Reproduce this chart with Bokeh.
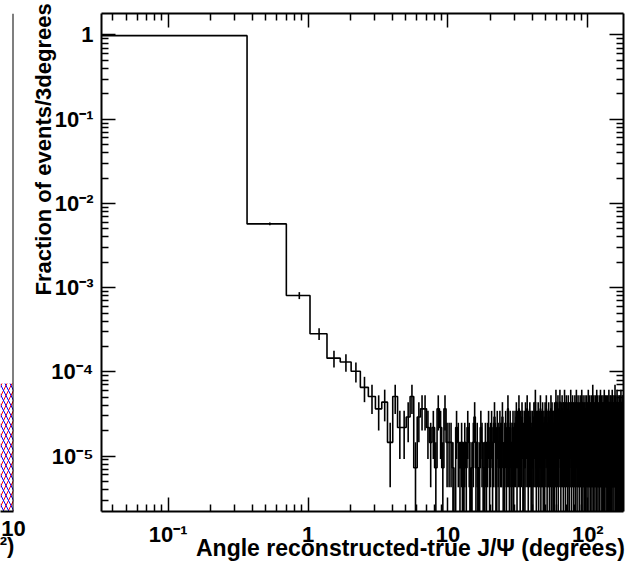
import numpy as np
from bokeh.plotting import figure
from bokeh.models import Range1d, FixedTicker, LogAxis
from bokeh.layouts import row
from bokeh.embed import file_html
from bokeh.resources import INLINE

FONT = "Liberation Sans"
NBSP = "\u00a0"

# ---------------- data ----------------
angle_bin_width = 1.0 / 3.0          # degrees per bin
angle_first_edge = 0.0333            # lower edge of first bin (degrees)

counts_0_14 = [134800, 785, 111, 39, 20, 18, 14, 9, 7, 5, 6, 2, 7, 3, 3]
counts_15_29 = [4, 7, 1, 4, 5, 5, 3, 2, 3, 1, 5, 3, 1, 5, 2]
counts_30_59 = [2, 2, 1, 0, 3, 2, 1, 2, 0, 2, 1, 3, 2, 0, 1, 2, 4, 1, 2, 0,
                1, 3, 2, 1, 0, 2, 1, 2, 3, 1]
counts_60_89 = [2, 3, 1, 2, 4, 2, 0, 3, 2, 1, 3, 2, 2, 4, 1, 0, 2, 3, 1, 2,
                5, 2, 1, 3, 2, 0, 2, 3, 1, 2]
counts_90_179 = [3, 2, 4, 1, 3, 2, 5, 2, 1, 3, 2, 4, 3, 0, 2, 3, 1, 4, 2, 3,
                 5, 2, 1, 3, 2, 4, 2, 3, 0, 2, 3, 1, 2, 4, 3, 2, 6, 2, 1, 3,
                 2, 3, 4, 1, 2, 3, 2, 5, 1, 2, 3, 2, 4, 2, 0, 3, 2, 1, 4, 3,
                 2, 5, 3, 1, 2, 3, 2, 4, 2, 1, 3, 2, 3, 5, 1, 2, 4, 2, 3, 0,
                 2, 3, 1, 4, 2, 3, 2, 6, 1, 3]
counts_180_539 = [3, 4, 2, 5, 1, 3, 2, 4, 3, 6, 2, 3, 1, 4, 3, 2, 5, 3, 2, 4,
                  1, 3, 4, 2, 6, 3, 2, 1, 4, 3, 5, 2, 3, 4, 2, 0, 3, 5, 2, 3,
                  4, 1, 3, 2, 4, 3, 6, 2, 3, 1, 4, 3, 2, 5, 3, 2, 4, 1, 3, 4,
                  2, 3, 5, 2, 1, 4, 3, 2, 6, 3, 3, 1, 4, 2, 3, 5, 2, 4, 3, 2,
                  1, 3, 4, 2, 5, 3, 2, 3, 4, 1, 3, 6, 2, 3, 4, 2, 1, 5, 3, 2,
                  4, 3, 2, 1, 3, 4, 5, 2, 3, 2, 0, 4, 3, 2, 5, 3, 1, 4, 2, 3,
                  3, 2, 6, 3, 4, 1, 2, 3, 5, 2, 4, 3, 2, 4, 1, 3, 2, 5, 3, 4,
                  2, 1, 3, 4, 2, 7, 3, 2, 4, 3, 1, 5, 2, 3, 4, 2, 3, 1, 4, 3,
                  5, 2, 3, 2, 4, 3, 1, 6, 2, 3, 4, 2, 3, 5, 1, 3, 4, 2, 3, 2,
                  3, 4, 1, 2, 5, 3, 2, 4, 3, 6, 2, 3, 4, 1, 3, 2, 5, 3, 4, 2,
                  1, 4, 3, 2, 3, 5, 2, 4, 1, 3, 3, 2, 4, 6, 2, 3, 1, 4, 3, 2,
                  5, 3, 2, 4, 3, 1, 2, 5, 3, 4, 2, 3, 0, 4, 3, 2, 5, 3, 2, 4,
                  1, 3, 4, 2, 6, 3, 2, 4, 3, 1, 4, 2, 3, 5, 2, 3, 4, 1, 3, 2,
                  5, 4, 2, 3, 1, 4, 3, 2, 6, 3, 2, 4, 3, 1, 5, 2, 3, 4, 2, 3,
                  3, 1, 4, 2, 3, 5, 3, 2, 4, 7, 2, 3, 1, 4, 3, 2, 5, 3, 2, 4,
                  3, 2, 4, 1, 3, 6, 2, 3, 4, 2, 1, 3, 5, 2, 4, 3, 2, 3, 1, 4,
                  4, 2, 3, 5, 2, 1, 3, 4, 2, 3, 3, 5, 2, 4, 1, 3, 2, 6, 3, 2,
                  2, 4, 3, 1, 3, 4, 2, 5, 3, 2, 4, 3, 1, 2, 5, 3, 4, 2, 3, 3]

x_tick_values = [0.1, 1, 10, 100]
x_tick_labels = ["10\u207b\u00b9", "1", "10", "10\u00b2"]
y_tick_values = [1e-5, 1e-4, 1e-3, 1e-2, 1e-1, 1]
y_tick_labels = ["10\u207b\u2075", "10\u207b\u2074", "10\u207b\u00b3",
                 "10\u207b\u00b2", "10\u207b\u00b9", "1"]

x_title = "Angle reconstructed-true J/\u03a8 (degrees)"
y_title = "Fraction of events/3degrees"

# neighbouring (cut-off) panel on the left: hatched fill level (fraction of its height),
# its last x tick label and the end of its x title
neighbour_fill_level = 0.257
neighbour_tick_label = "10"
neighbour_title_end = "\u00b2)"

# ---------------- derived ----------------
counts = np.array(counts_0_14 + counts_15_29 + counts_30_59 + counts_60_89
                  + counts_90_179 + counts_180_539, dtype=float)
total = counts.sum()
edges = angle_first_edge + angle_bin_width * np.arange(len(counts) + 1)
frac = counts / total
FLOOR = 1e-9
yplot = np.where(frac > 0, frac, FLOOR)
xs = np.repeat(edges, 2)[1:-1]
ys = np.repeat(yplot, 2)

centers = 0.5 * (edges[:-1] + edges[1:])
err = np.sqrt(counts)
lo = (counts - err) / total
lo = np.where(lo > 0, lo, FLOOR)
hi = (counts + err) / total
m = counts > 0

# ---------------- main figure ----------------
p = figure(frame_width=522, frame_height=498,
           x_axis_type="log", y_axis_type="log",
           x_range=Range1d(0.0334, 180.0), y_range=Range1d(2.2e-6, 1.8),
           min_border_left=74, min_border_right=10, min_border_top=13,
           min_border_bottom=51,
           output_backend="svg", toolbar_location=None)
p.grid.visible = False
p.outline_line_color = None
p.background_fill_color = "white"

p.line(xs, ys, line_color="black", line_width=1.6)
p.segment(centers[m], lo[m], centers[m], hi[m], line_color="black", line_width=1.6)

xminor = [k * 10.0 ** e for e in range(-2, 3) for k in range(2, 10)]
yminor = [k * 10.0 ** e for e in range(-7, 1) for k in range(2, 10)]
xt = FixedTicker(ticks=x_tick_values, minor_ticks=xminor)
yt = FixedTicker(ticks=y_tick_values, minor_ticks=yminor)


def style_axis(ax, labels_on):
    ax.axis_line_width = 2
    ax.axis_line_color = "black"
    ax.major_tick_in = 14
    ax.major_tick_out = 0
    ax.minor_tick_in = 7
    ax.minor_tick_out = 0
    ax.major_tick_line_width = 1.5
    ax.minor_tick_line_width = 1.5
    ax.major_tick_line_color = "black"
    ax.minor_tick_line_color = "black"
    if labels_on:
        ax.major_label_text_font = FONT
        ax.major_label_text_font_style = "bold"
        ax.major_label_text_font_size = "22px"
        ax.major_label_text_color = "black"
        ax.axis_label_text_font = FONT
        ax.axis_label_text_font_style = "bold"
        ax.axis_label_text_font_size = "22px"
        ax.axis_label_text_color = "black"
    else:
        ax.major_label_text_font_size = "1px"
        ax.major_label_text_alpha = 0
        ax.major_label_standoff = 0


# ROOT puts both titles at the far end of their axes; Bokeh centres them,
# so lead them with non-breaking spaces to push them towards the end.
xa = p.xaxis[0]
xa.ticker = xt
xa.major_label_overrides = dict(zip(x_tick_values, x_tick_labels))
style_axis(xa, True)
xa.major_label_standoff = 10
xa.axis_label = NBSP * 15 + x_title
xa.axis_label_text_font_size = "23px"
xa.axis_label_standoff = -15

ya = p.yaxis[0]
ya.ticker = yt
ya.major_label_overrides = dict(zip(y_tick_values, y_tick_labels))
style_axis(ya, True)
ya.major_label_standoff = 8
ya.axis_label = NBSP * 37 + y_title
ya.axis_label_standoff = -8

top = LogAxis(ticker=FixedTicker(ticks=x_tick_values, minor_ticks=xminor))
style_axis(top, False)
p.add_layout(top, "above")
right = LogAxis(ticker=FixedTicker(ticks=y_tick_values, minor_ticks=yminor))
style_axis(right, False)
p.add_layout(right, "right")

# ---------------- neighbouring panel sliver ----------------
q = figure(frame_width=13, frame_height=498, x_range=Range1d(0, 1), y_range=Range1d(0, 1),
           min_border_left=0, min_border_right=14, min_border_top=13, min_border_bottom=51,
           output_backend="svg", toolbar_location=None)
q.grid.visible = False
q.outline_line_color = None
q.yaxis.visible = False
q.quad(left=[0], right=[1], bottom=[0], top=[neighbour_fill_level],
       fill_color=None, line_color=None,
       hatch_pattern="right_diagonal_line", hatch_color="red", hatch_scale=10, hatch_weight=1)
q.quad(left=[0], right=[1], bottom=[0], top=[neighbour_fill_level],
       fill_color=None, line_color=None,
       hatch_pattern="left_diagonal_line", hatch_color="blue", hatch_scale=10, hatch_weight=1)
q.line(x=[1, 1], y=[0, 1], line_color="black", line_width=2)
qx = q.xaxis[0]
qx.ticker = FixedTicker(ticks=[1], minor_ticks=[])
qx.major_label_overrides = {1: neighbour_tick_label}
qx.axis_line_width = 2
qx.major_tick_in = 0
qx.major_tick_out = 0
qx.minor_tick_in = 0
qx.minor_tick_out = 0
qx.major_label_standoff = 9
qx.major_label_text_font = FONT
qx.major_label_text_font_style = "bold"
qx.major_label_text_font_size = "22px"
qx.major_label_text_color = "black"
qx.axis_label = neighbour_title_end
qx.axis_label_text_font = FONT
qx.axis_label_text_font_style = "bold"
qx.axis_label_text_font_size = "22px"
qx.axis_label_text_color = "black"
qx.axis_label_standoff = -6

layout = row(q, p)
open("out.html", "w").write(file_html(layout, INLINE))
